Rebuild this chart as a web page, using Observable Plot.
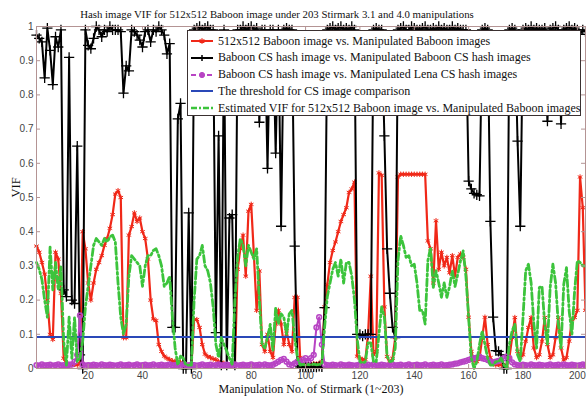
<!DOCTYPE html>
<html><head><meta charset="utf-8">
<script src="https://cdn.jsdelivr.net/npm/d3@7"></script>
<script src="https://cdn.jsdelivr.net/npm/@observablehq/plot@0.6"></script>
<style>
body{margin:0;background:#fff;}
#wrap{position:relative;width:586px;height:396px;overflow:hidden;background:#fff;}
#legend{position:absolute;left:187px;top:30px;width:392px;height:84px;border:1px solid #3a3030;background:#fff;font-family:"Liberation Serif","Times New Roman",serif;font-size:12px;color:#111;}
.row{position:absolute;left:2px;height:16px;display:flex;align-items:center;white-space:nowrap}
.row svg{margin-right:2px;display:block}
</style></head><body><div id="wrap"></div>
<script>
const titleText = "Hash image VIF for 512x512 Baboon image under 203 Stirmark 3.1 and 4.0 manipulations";
const xLabel = "Manipulation No. of Stirmark (1~203)";
const yLabel = "VIF";
const seriesNames = [
  "512x512 Baboon image vs. Manipulated Baboon images",
  "Baboon CS hash image vs. Manipulated Baboon CS hash images",
  "Baboon CS hash image vs. Manipulated Lena CS hash images",
  "The threshold for CS image comparison",
  "Estimated VIF for 512x512 Baboon image vs. Manipulated Baboon images"
];
const xTicks = [20,40,60,80,100,120,140,160,180,200];
const yTicks = [0,0.1,0.2,0.3,0.4,0.5,0.6,0.7,0.8,0.9,1];
const threshold = 0.092;

const babVsManip = [
.358,.34,.31,.276,.2,.1,.085,.34,.32,.22,
.03,.015,.01,.01,.012,.01,.015,.4,.35,.25,
.2,.25,.29,.31,.33,.36,.38,.41,.45,.51,
.52,.5,.09,.09,.39,.415,.455,.43,.44,.4,
.38,.32,.2,.145,.14,.07,.05,.036,.03,.026,
.022,.021,.02,.018,.01,.008,.01,.01,.143,.143,
.12,.07,.042,.035,.032,.028,.026,.02,.018,.015,
.01,.01,.01,.01,.29,.35,.39,.27,.46,.48,
.33,.17,.285,.07,.05,.1,.05,.032,.13,.17,
.13,.07,.11,.07,.05,.208,.208,.032,.013,.012,
.013,.012,.014,.013,.015,.02,.18,.245,.31,.345,
.37,.4,.43,.45,.47,.515,.525,.545,.036,.03,
.026,.026,.1,.27,.04,.05,.572,.565,.18,.035,
.014,.03,.09,.56,.568,.568,.568,.568,.568,.568,
.568,.568,.568,.568,.373,.35,.25,.432,.29,.34,
.3,.325,.28,.33,.27,.325,.335,.325,.29,.15,
.05,.022,.02,.03,.09,.15,.07,.032,.015,.01,
.012,.01,.01,.01,.032,.09,.149,.05,.032,.04,
.08,.12,.149,.06,.032,.04,.08,.149,.07,.032,
.04,.09,.149,.06,.025,.032,.08,.143,.149,.17,
.56,.47,.17];

const csBabVsBab = [
.975,.965,.955,.85,.995,.93,.83,.97,.94,.99,
.23,.21,.91,.2,.19,.65,.04,0,.99,.945,
.935,.965,1,.99,.97,.99,.985,1,.99,.99,
.99,.985,.805,.885,.87,.99,.985,.975,.96,.94,
.985,.99,.955,.99,.985,1,.99,.975,.92,.95,
.12,.12,.73,.775,0,0,.455,0,.99,.995,
1,.99,.995,1,.99,.99,.105,.68,.01,.99,
.01,.44,.45,.01,.99,.99,1,.99,.995,1,
.99,.995,.72,.99,.99,.585,.99,.99,.63,.99,
.416,.99,.995,.99,.99,.358,.015,.005,.004,.004,
.003,.004,.005,.004,.006,.005,.178,.99,.995,1,
.99,.995,1,.99,.995,.99,1,.99,.1,.1,
.095,.1,.1,.1,.99,.995,.99,.99,.68,.35,
.22,.12,.09,.99,.995,1,.99,.99,1,.995,
.99,.99,.995,1,.99,.99,.995,.99,1,.99,
.995,.99,.99,1,.99,.995,.99,.99,.99,.548,
.525,.512,.508,.505,.99,.995,.99,.43,.15,.052,
.05,.04,0,0,.99,.995,.99,.665,.416,.99,
.995,.99,1,.99,.995,.99,.99,.995,.723,.99,
.995,1,.99,.715,.99,.995,1,.99,.995,.99,
.977,.99,.985];

const csBabVsLena = [
.01,.008,.012,.009,.01,.011,.008,.01,.012,.009,
.01,.009,.011,.012,.02,.04,.155,.012,.008,.01,
.009,.011,.01,.008,.012,.01,.009,.011,.01,.008,
.01,.012,.009,.01,.011,.008,.01,.012,.009,.01,
.011,.009,.01,.012,.008,.01,.011,.009,.01,.012,
.009,.01,.011,.008,.012,.01,.009,.011,.01,.008,
.01,.012,.009,.01,.011,.008,.01,.012,.009,.01,
.011,.009,.01,.012,.008,.01,.011,.009,.01,.012,
.009,.01,.011,.008,.012,.01,.009,.011,.015,.02,
.025,.028,.02,.012,.01,.015,.02,.018,.025,.03,
.022,.03,.04,.12,.15,.07,.012,.01,.009,.011,
.01,.008,.012,.01,.009,.011,.01,.008,.01,.012,
.009,.01,.011,.008,.012,.01,.009,.011,.01,.008,
.01,.012,.009,.01,.011,.008,.01,.012,.009,.01,
.011,.009,.01,.012,.008,.01,.011,.009,.01,.012,
.009,.01,.011,.012,.014,.015,.018,.02,.022,.025,
.028,.03,.032,.035,.03,.028,.025,.02,.018,.02,
.022,.025,.03,.035,.03,.018,.012,.01,.009,.011,
.01,.008,.012,.01,.009,.011,.01,.008,.01,.012,
.009,.01,.011,.008,.012,.01,.009,.011,.01,.008,
.01,.012,.009];

const estimatedVIF = [
.31,.29,.26,.2,.15,.355,.23,.31,.23,.3,
.08,.01,.15,.03,.15,.02,.03,.08,.18,.24,
.3,.36,.38,.37,.36,.38,.37,.385,.39,.37,
.25,.15,.1,.13,.27,.33,.32,.31,.3,.24,
.3,.33,.33,.345,.35,.33,.3,.24,.25,.27,
.15,.06,.01,.036,.03,.01,.01,.01,.2,.32,
.33,.36,.3,.286,.25,.18,.071,.032,.09,.07,
.051,.03,.013,.2,.325,.38,.36,.3,.36,.34,
.32,.35,.2,.07,.06,.09,.129,.05,.178,.13,
.16,.15,.1,.16,.17,.09,.032,.01,.012,.01,
.012,.01,.013,.011,.012,.015,.12,.21,.25,.29,
.31,.27,.32,.25,.31,.31,.27,.2,.085,.02,
.016,.02,.075,.075,.02,.02,.1,.18,.15,.036,
.02,.022,.06,.315,.388,.36,.325,.33,.3,.305,
.25,.17,.17,.13,.315,.354,.237,.286,.25,.208,
.25,.208,.24,.286,.24,.276,.315,.344,.27,.149,
.03,0,.02,.07,.11,.07,.03,.01,.01,.02,
.02,.03,.01,0,.071,.11,.129,.04,.02,.149,
.286,.305,.25,.13,.06,.237,.24,.129,.07,.237,
.305,.25,.13,.06,.246,.295,.168,.1,.227,.315,
.31,.3,.3];

const C = {red:"#f02818", black:"#000", mag:"#b844c4", blue:"#2a48b8", green:"#3cc43c", frame:"#b49494"};
const rows = arr => arr.map((v,k) => ({i: k+1, v}));
const R = rows(babVsManip), K = rows(csBabVsBab), M = rows(csBabVsLena), G = rows(estimatedVIF);
const serif = "'Liberation Serif','Times New Roman',serif";

const W = 586, H = 396, mL = 36, mR = 1, mT = 26, mB = 28;
const pw = W - mL - mR, ph = H - mT - mB;

const plot = Plot.plot({
  width: W, height: H,
  marginLeft: mL, marginRight: mR, marginTop: mT, marginBottom: mB,
  x: {domain: [1, 203]},
  y: {domain: [0, 1]},
  style: {background: "white", fontFamily: "'Liberation Sans Narrow','Liberation Sans',sans-serif", fontSize: "10px", color: "#444"},
  marks: [
    Plot.lineY(R, {x: "i", y: "v", stroke: C.red, strokeWidth: 2.2}),
    Plot.dot(R, {x: "i", y: "v", symbol: "asterisk", r: 2.5, stroke: C.red, strokeWidth: 1}),
    Plot.lineY(K, {x: "i", y: "v", stroke: C.black, strokeWidth: 2}),
    Plot.dot(K, {x: "i", y: "v", symbol: "plus", r: 3.4, stroke: C.black, strokeWidth: 1.3}),
    Plot.lineY(M, {x: "i", y: "v", stroke: C.mag, strokeWidth: 2}),
    Plot.dot(M, {x: "i", y: "v", symbol: "circle", r: 2.4, stroke: C.mag, fill: "none", strokeWidth: 1.5}),
    Plot.ruleY([threshold], {stroke: C.blue, strokeWidth: 2}),
    Plot.lineY(G, {x: "i", y: "v", stroke: C.green, strokeWidth: 2.8, strokeDasharray: "7,3,2,3"}),
    Plot.frame({stroke: C.frame}),
    Plot.ruleX(xTicks, {x: d => d, insetTop: ph - 4, stroke: C.frame}),
    Plot.ruleX(xTicks, {x: d => d, insetBottom: ph - 4, stroke: C.frame}),
    Plot.ruleY(yTicks, {y: d => d, insetRight: pw - 4, stroke: C.frame}),
    Plot.ruleY(yTicks, {y: d => d, insetLeft: pw - 4, stroke: C.frame}),
    Plot.axisX(xTicks, {anchor: "bottom", tickSize: 0, tickPadding: 3, label: null}),
    Plot.axisY(yTicks, {anchor: "left", tickSize: 0, tickPadding: 3, label: null, tickFormat: d => String(d)}),
    Plot.text([xLabel], {text: d => d, frameAnchor: "bottom", lineAnchor: "middle", dy: 21, fontFamily: serif, fontSize: 12, fill: "#111"}),
    Plot.text([yLabel], {text: d => d, frameAnchor: "left", lineAnchor: "middle", dx: -21, rotate: -90, fontFamily: serif, fontSize: 12.5, fill: "#111"}),
    Plot.text([titleText], {text: d => d, frameAnchor: "top", lineAnchor: "middle", dx: -34, dy: -12, fontFamily: serif, fontSize: 10.8, fill: "#111"})
  ]
});
const wrap = document.getElementById("wrap");
wrap.append(plot);

// legend overlay
const swatches = [
  `<line x1="1" y1="5" x2="23" y2="5" stroke="${C.red}" stroke-width="2"/><path d="M12,2.2V7.8M9.6,3.6L14.4,6.4M9.6,6.4L14.4,3.6" stroke="${C.red}" stroke-width="1.2"/>`,
  `<line x1="1" y1="5" x2="23" y2="5" stroke="#000" stroke-width="2"/><path d="M12,2V8M9,5H15" stroke="#000" stroke-width="1.5"/>`,
  `<line x1="1" y1="5" x2="23" y2="5" stroke="${C.mag}" stroke-width="2" stroke-dasharray="5,3"/><circle cx="12" cy="5" r="2.6" fill="${C.mag}" stroke="${C.mag}"/>`,
  `<line x1="1" y1="5" x2="23" y2="5" stroke="${C.blue}" stroke-width="2"/>`,
  `<line x1="1" y1="5" x2="23" y2="5" stroke="${C.green}" stroke-width="2.4" stroke-dasharray="6,2,2,2"/>`
];
const leg = document.createElement("div");
leg.id = "legend";
seriesNames.forEach((name, k) => {
  const r = document.createElement("div");
  r.className = "row";
  r.style.top = (2 + k * 16.8) + "px";
  r.innerHTML = `<svg width="26" height="10">${swatches[k]}</svg><span>${name}</span>`;
  leg.append(r);
});
wrap.append(leg);
</script>
</body></html>
